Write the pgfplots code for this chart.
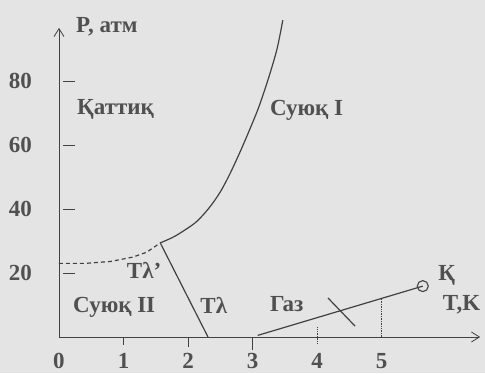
\documentclass[border=0pt]{standalone}
\usepackage{fontspec}
\setmainfont{Liberation Serif}
\usepackage{pgfplots}
\pgfplotsset{compat=1.18}
\usetikzlibrary{arrows.meta}
\definecolor{bg}{RGB}{228,228,228}
\definecolor{ink}{RGB}{65,65,65}
\definecolor{txt}{RGB}{80,80,80}
\begin{document}
\begin{tikzpicture}[font=\fontsize{23}{27}\selectfont\bfseries]
\fill[bg] (-59pt,-36pt) rectangle (426pt,337pt);
\begin{axis}[
  at={(0pt,0pt)}, anchor=south west,
  x=64.5pt, y=3.2pt,
  xmin=0, xmax=6.53, ymin=0, ymax=96.6,
  axis lines=left,
  axis line style={ink, line width=0.8pt, -{Straight Barb[length=8pt,width=10pt]}},
  clip=false,
  xtick={0,1,2,3,4,5}, ytick={20,40,60,80},
  major tick length=0pt,
  /pgf/number format/assume math mode=true,
  ticklabel style={font=\fontsize{23}{27}\selectfont\bfseries, text=txt},
  yticklabel style={anchor=east, inner sep=0pt, xshift=-27pt},
  xticklabel style={anchor=north, inner sep=0pt, yshift=-16pt},
]
% tick marks
\addplot[ink, line width=0.8pt] coordinates {(0.06,80) (0.25,80)};
\addplot[ink, line width=0.8pt] coordinates {(0.06,60) (0.25,60)};
\addplot[ink, line width=0.8pt] coordinates {(0.06,40) (0.25,40)};
\addplot[ink, line width=0.8pt] coordinates {(0.06,20) (0.25,20)};
\addplot[ink, line width=0.8pt] coordinates {(1,0) (1,-2.5)};
\addplot[ink, line width=0.8pt] coordinates {(2,0) (2,-3)};
\addplot[ink, line width=0.8pt] coordinates {(3,0) (3,-4)};
% dashed part of melting curve
\addplot[ink, line width=1.2pt, dash pattern=on 4pt off 3pt] coordinates {
  (0,23) (0.4,23) (0.8,23.6) (1.15,25) (1.36,26.5) (1.57,29.4)};
% solid melting curve
\addplot[ink, line width=1.2pt, smooth] coordinates {
  (1.57,29.4) (1.75,31) (1.88,32.5) (2.1,35.5) (2.25,38.5) (2.39,42)
  (2.52,46) (2.65,51) (2.8,57.5) (2.96,65) (3.1,72) (3.25,81) (3.38,90) (3.47,99)};
% lambda line
\addplot[ink, line width=1.2pt] coordinates {(1.57,29.4) (2.31,0)};
% vapour line
\addplot[ink, line width=1.2pt] coordinates {(3.08,0.5) (5.64,15.9)};
% crossing mark
\addplot[ink, line width=1.2pt] coordinates {(4.17,12.2) (4.59,3.4)};
% dotted verticals
\addplot[ink, line width=0.7pt, densely dotted] coordinates {(5,0) (5,12.05)};
\addplot[ink, line width=0.7pt, densely dotted] coordinates {(4,-2) (4,3)};
% critical point
\addplot[ink, line width=1.1pt, only marks, mark=o, mark size=5.5pt,
  mark options={fill=bg}] coordinates {(5.64,15.9)};
% labels
\node[txt, anchor=base west, inner sep=0pt] at (axis cs:0.264,95.3) {P, атм};
\node[txt, anchor=base west, inner sep=0pt] at (axis cs:0.279,69.4) {Қаттиқ};
\node[txt, anchor=base west, inner sep=0pt] at (axis cs:3.27,69.1) {Суюқ I};
\node[txt, anchor=base west, inner sep=0pt] at (axis cs:1.05,18.4) {Tλ'};
\node[txt, anchor=base west, inner sep=0pt] at (axis cs:0.217,7.8) {Суюқ II};
\node[txt, anchor=base west, inner sep=0pt] at (axis cs:2.19,7.5) {Tλ};
\node[txt, anchor=base west, inner sep=0pt] at (axis cs:3.27,8.1) {Газ};
\node[txt, anchor=base west, inner sep=0pt] at (axis cs:5.88,17.8) {Қ};
\node[txt, anchor=base west, inner sep=0pt] at (axis cs:5.95,8.4) {T,K};
\end{axis}
\pgfresetboundingbox
\path[use as bounding box] (-59pt,-36pt) rectangle (426pt,337pt);
\end{tikzpicture}
\end{document}
